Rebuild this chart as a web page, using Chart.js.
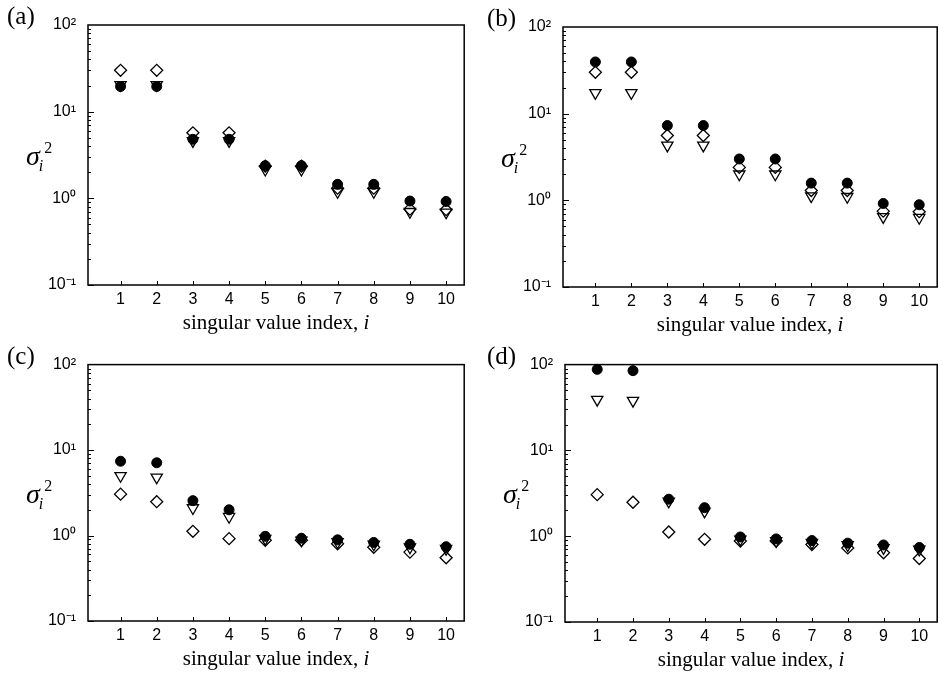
<!DOCTYPE html>
<html>
<head>
<meta charset="utf-8">
<script src="https://cdn.jsdelivr.net/npm/chart.js@4.4.1/dist/chart.umd.min.js"></script>
<style>
  body { margin: 0; background: #fff; }
  #wrap { position: relative; width: 945px; height: 687px; overflow: hidden; background: #fff; }
  canvas { position: absolute; }
  .lab { position: absolute; font-family: "Liberation Serif", "Times New Roman", serif; color: #000; white-space: nowrap; line-height: 1; }
  .letter { font-size: 25px; }
  .xt { font-size: 21px; text-align: center; }
  .sig .s { font-style: italic; font-size: 28px; }
  .sig .sb { font-style: italic; font-size: 16px; position: relative; top: 6px; left: -1px; }
  .sig .sp { font-size: 16px; position: relative; top: -12px; left: 0px; }
</style>
</head>
<body>
<div id="wrap">
  <canvas id="chartA" width="472" height="343" style="left:0;top:0"></canvas>
  <canvas id="chartB" width="473" height="343" style="left:472px;top:0"></canvas>
  <canvas id="chartC" width="472" height="344" style="left:0;top:343px"></canvas>
  <canvas id="chartD" width="473" height="344" style="left:472px;top:343px"></canvas>
</div>
<script>
// singular value index
const indices = [1, 2, 3, 4, 5, 6, 7, 8, 9, 10];
const xTickValues = [1, 2, 3, 4, 5, 6, 7, 8, 9, 10];
const yTickValues = [0.1, 1, 10, 100];
const yTickLabels = ["10\u207B\u00B9", "10\u2070", "10\u00B9", "10\u00B2"];
const panelLetters = ["(a)", "(b)", "(c)", "(d)"];

// (a)
const circlesA   = [19.5, 19.5, 4.8, 4.8, 2.38, 2.38, 1.45, 1.45, 0.93, 0.92];
const diamondsA  = [30, 30, 5.7, 5.7, 2.35, 2.35, 1.31, 1.31, 0.75, 0.74];
const trianglesA = [20.4, 20.4, 4.6, 4.6, 2.15, 2.15, 1.19, 1.19, 0.70, 0.69];
// (b)
const circlesB   = [39.5, 39.5, 7.3, 7.3, 3.0, 3.0, 1.58, 1.58, 0.92, 0.89];
const diamondsB  = [30, 30, 5.6, 5.6, 2.4, 2.4, 1.3, 1.3, 0.75, 0.74];
const trianglesB = [17.4, 17.4, 4.3, 4.3, 2.0, 2.0, 1.12, 1.1, 0.645, 0.63];
// (c)
const circlesC   = [7.4, 7.1, 2.56, 2.0, 0.98, 0.93, 0.89, 0.83, 0.79, 0.74];
const diamondsC  = [3.05, 2.49, 1.12, 0.92, 0.88, 0.88, 0.8, 0.73, 0.64, 0.55];
const trianglesC = [5.0, 4.8, 2.1, 1.66, 0.92, 0.88, 0.84, 0.79, 0.73, 0.70];
// (d)
const circlesD   = [88, 85, 2.7, 2.15, 0.98, 0.93, 0.89, 0.83, 0.79, 0.74];
const diamondsD  = [3.05, 2.49, 1.12, 0.92, 0.88, 0.88, 0.8, 0.73, 0.64, 0.55];
const trianglesD = [39, 38, 2.55, 1.95, 0.92, 0.88, 0.84, 0.79, 0.73, 0.70];

const tickFont = { family: "'Liberation Sans', Arial, sans-serif", size: 16 };

// inward tick marks and the box round the plot
const framePlugin = {
  id: "frame",
  beforeDatasetsDraw(chart) {
    const { ctx, chartArea: a, scales: { x, y } } = chart;
    ctx.save();
    ctx.strokeStyle = "#000";
    ctx.lineWidth = 1;
    ctx.beginPath();
    for (let e = -1; e <= 1; e++) {
      for (let m = 1; m <= 9; m++) {
        const py = Math.round(y.getPixelForValue(m * Math.pow(10, e))) + 0.5;
        const len = m === 1 ? 6 : 3;
        ctx.moveTo(a.left, py);
        ctx.lineTo(a.left + len, py);
      }
    }
    xTickValues.forEach((v) => {
      const px = Math.round(x.getPixelForValue(v)) + 0.5;
      ctx.moveTo(px, a.bottom);
      ctx.lineTo(px, a.bottom - 4);
    });
    ctx.stroke();
    ctx.lineWidth = 1.5;
    ctx.strokeRect(a.left, a.top, a.right - a.left, a.bottom - a.top);
    ctx.restore();
  }
};

function toPoints(values) {
  return indices.map((x, i) => ({ x, y: values[i] }));
}

function makeChart(id, circles, diamonds, triangles, box) {
  const canvas = document.getElementById(id);
  return new Chart(canvas.getContext("2d"), {
    type: "scatter",
    data: {
      datasets: [
        { data: toPoints(circles), pointStyle: "circle", pointRadius: 5, backgroundColor: "#000", borderColor: "#000", borderWidth: 1 },
        { data: toPoints(diamonds), pointStyle: "rectRot", pointRadius: 6, backgroundColor: "rgba(0,0,0,0)", borderColor: "#000", borderWidth: 1.3 },
        { data: toPoints(triangles), pointStyle: "triangle", rotation: 180, pointRadius: 6.5, backgroundColor: "rgba(0,0,0,0)", borderColor: "#000", borderWidth: 1.3 }
      ]
    },
    options: {
      responsive: false,
      animation: false,
      events: [],
      clip: false,
      layout: { padding: { left: 0, right: box.right, top: box.top, bottom: 0 } },
      plugins: { legend: { display: false }, tooltip: { enabled: false } },
      scales: {
        x: {
          type: "linear",
          min: 0.1,
          max: 10.5,
          afterBuildTicks: (s) => { s.ticks = xTickValues.map((v) => ({ value: v })); },
          afterFit: (s) => { s.height = box.xh; },
          grid: { display: false, drawTicks: false },
          border: { display: false },
          ticks: { color: "#000", font: tickFont, padding: 5, autoSkip: false, maxRotation: 0 }
        },
        y: {
          type: "logarithmic",
          min: 0.1,
          max: 100,
          afterBuildTicks: (s) => { s.ticks = yTickValues.map((v) => ({ value: v })); },
          afterFit: (s) => { s.width = box.yw; },
          grid: { display: false, drawTicks: false },
          border: { display: false },
          ticks: { color: "#000", font: tickFont, padding: 12, autoSkip: false, callback: (v, i) => yTickLabels[i] }
        }
      }
    },
    plugins: [framePlugin]
  });
}

const charts = [
  makeChart("chartA", circlesA, diamondsA, trianglesA, { yw: 88, right: 5, top: 25, xh: 58 }),
  makeChart("chartB", circlesB, diamondsB, trianglesB, { yw: 91, right: 3, top: 27, xh: 56 }),
  makeChart("chartC", circlesC, diamondsC, trianglesC, { yw: 88, right: 5, top: 18, xh: 66 }),
  makeChart("chartD", circlesD, diamondsD, trianglesD, { yw: 93, right: 2, top: 19, xh: 65 })
];

// text labels placed from each chart's plot area
const wrap = document.getElementById("wrap");
charts.forEach((c, k) => {
  const cv = c.canvas;
  const ox = cv.offsetLeft, oy = cv.offsetTop;
  const a = c.chartArea;

  const letter = document.createElement("div");
  letter.className = "lab letter";
  letter.textContent = panelLetters[k];
  letter.style.left = (ox + (k % 2 ? 15 : 7)) + "px";
  letter.style.top = (oy + a.top - 22) + "px";
  wrap.appendChild(letter);

  const sig = document.createElement("div");
  sig.className = "lab sig";
  sig.innerHTML = '<span class="s">\u03C3</span><span class="sb">i</span><span class="sp">2</span>';
  sig.style.left = (ox + a.left - 62) + "px";
  sig.style.top = (oy + (a.top + a.bottom) / 2 - 13) + "px";
  wrap.appendChild(sig);

  const xt = document.createElement("div");
  xt.className = "lab xt";
  xt.innerHTML = "singular value index, <i>i</i>";
  xt.style.left = (ox + a.left) + "px";
  xt.style.width = (a.right - a.left) + "px";
  xt.style.top = (oy + a.bottom + 27) + "px";
  wrap.appendChild(xt);
});
</script>
</body>
</html>
